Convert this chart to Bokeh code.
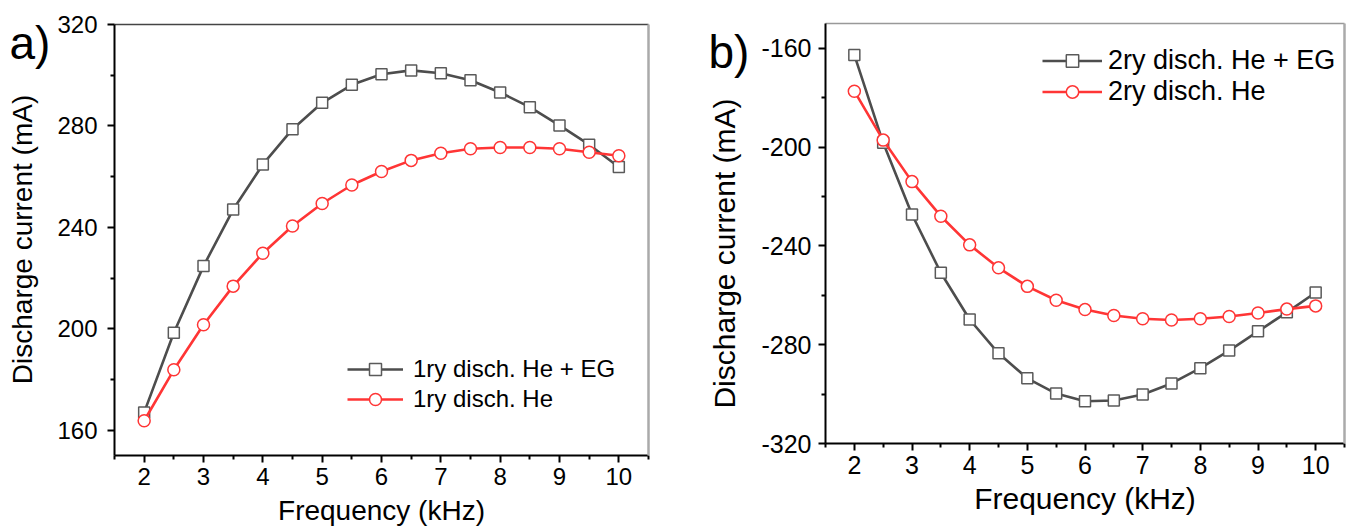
from math import pi
from bokeh.plotting import figure
from bokeh.models import Range1d, FixedTicker, Label, Legend, LegendItem, LinearAxis
from bokeh.layouts import row
from bokeh.embed import file_html
from bokeh.resources import INLINE

# ---------------- data ----------------
freq = [2, 2.5, 3, 3.5, 4, 4.5, 5, 5.5, 6, 6.5, 7, 7.5, 8, 8.5, 9, 9.5, 10]

prim_he_eg = [167.0, 198.4, 224.7, 247.0, 264.8, 278.7, 289.1, 296.2, 300.4, 301.9,
              300.8, 298.0, 293.2, 287.4, 280.2, 272.6, 263.8]
prim_he = [163.7, 183.8, 201.6, 216.8, 229.8, 240.5, 249.4, 256.7, 262.0, 266.4,
           269.2, 271.0, 271.5, 271.5, 271.0, 269.6, 268.2]

sec_he_eg = [-162.7, -198.3, -227.3, -250.9, -269.8, -283.5, -293.6, -299.8, -302.9, -302.6,
             -300.2, -295.7, -289.5, -282.4, -274.6, -266.9, -258.9]
sec_he = [-177.4, -197.2, -214.0, -228.0, -239.6, -248.9, -256.4, -262.0, -265.8, -268.2,
          -269.5, -270.0, -269.5, -268.6, -267.2, -265.6, -264.3]

x_ticks = [2, 3, 4, 5, 6, 7, 8, 9, 10]
x_minor = [1.5, 2.5, 3.5, 4.5, 5.5, 6.5, 7.5, 8.5, 9.5, 10.5]
x_bounds = (1.5, 10.5)
ya_ticks = [160, 200, 240, 280, 320]
ya_minor = [180, 220, 260, 300]
ya_bounds = (150, 320)
yb_ticks = [-320, -280, -240, -200, -160]
yb_minor = [-300, -260, -220, -180]
yb_bounds = (-320, -150)

labels_a = ["1ry disch. He + EG", "1ry disch. He"]
labels_b = ["2ry disch. He + EG", "2ry disch. He"]
x_title = "Frequency (kHz)"
y_title = "Discharge current (mA)"

FONT = "Liberation Sans"
GREY = "#4d4d4d"
GREY_MK = "#5a5a5a"
RED = "#ff3535"


def lin(p0, p1, v0, v1, c):
    return v0 + (c - p0) * (v1 - v0) / (p1 - p0)


def panel(width, height, frame_px, xb, yb, yticks, yminor, s1, s2, labels, tag,
          tick_fs, lab_fs, leg_fs, tag_pos, ylab_pos, xlab_pos, leg_loc,
          glyph_w, row_h, standoff, ylab_standoff, top_color, right_color):
    # frame_px: pixel positions (left, right, top, bottom) of the data box inside the canvas
    L, R, T, B = frame_px
    xr = Range1d(lin(L, R, xb[0], xb[1], 0), lin(L, R, xb[0], xb[1], width))
    yr = Range1d(lin(B, T, yb[0], yb[1], height), lin(B, T, yb[0], yb[1], 0))
    p = figure(width=width, height=height, output_backend="svg", toolbar_location=None,
               x_range=xr, y_range=yr, min_border=0,
               min_border_left=0, min_border_right=0, min_border_top=0, min_border_bottom=0)
    p.outline_line_color = None
    p.grid.visible = False
    p.background_fill_color = "white"
    p.border_fill_color = "white"

    p.xaxis.ticker = FixedTicker(ticks=x_ticks, minor_ticks=x_minor)
    p.yaxis.ticker = FixedTicker(ticks=yticks, minor_ticks=yminor)
    p.xaxis.fixed_location = yb[0]
    p.xaxis.bounds = xb
    p.yaxis.fixed_location = xb[0]
    p.yaxis.bounds = yb
    p.yaxis.major_label_overrides = {t: str(t) for t in yticks}
    for ax in (p.xaxis[0], p.yaxis[0]):
        ax.axis_line_width = 2
        ax.axis_line_color = "black"
        ax.major_tick_line_width = 2
        ax.minor_tick_line_width = 2
        ax.major_tick_in = 0
        ax.major_tick_out = 7
        ax.minor_tick_in = 0
        ax.minor_tick_out = 4
        ax.major_label_text_font = FONT
        ax.major_label_text_font_size = tick_fs
        ax.major_label_text_color = "black"
    p.xaxis.major_label_standoff = 5
    p.yaxis.major_label_standoff = ylab_standoff

    # frame top and right edges (lines only)
    top = LinearAxis(fixed_location=yb[1], bounds=xb, ticker=FixedTicker(ticks=[]),
                     axis_line_color=top_color, axis_line_width=1.5,
                     major_tick_out=0, minor_tick_out=0)
    right = LinearAxis(fixed_location=xb[1], bounds=yb, ticker=FixedTicker(ticks=[]),
                       axis_line_color=right_color, axis_line_width=2.5,
                       major_tick_out=0, minor_tick_out=0)
    p.add_layout(top, "above")
    p.add_layout(right, "right")

    l1 = p.line(freq, s1, line_color=GREY, line_width=2.6)
    m1 = p.scatter(freq, s1, marker="square", size=11, fill_color="white",
                   line_color=GREY_MK, line_width=1.5)
    l2 = p.line(freq, s2, line_color=RED, line_width=2.6)
    m2 = p.scatter(freq, s2, marker="circle", size=12, fill_color="white",
                   line_color=RED, line_width=1.5)

    leg = Legend(items=[LegendItem(label=labels[0], renderers=[l1, m1]),
                        LegendItem(label=labels[1], renderers=[l2, m2])],
                 location=leg_loc)
    leg.padding = 0
    leg.margin = 0
    leg.spacing = 0
    leg.border_line_alpha = 0
    leg.background_fill_alpha = 0
    leg.glyph_width = glyph_w
    leg.glyph_height = row_h
    leg.label_height = row_h
    leg.label_standoff = standoff
    leg.label_text_font = FONT
    leg.label_text_font_size = leg_fs
    leg.label_text_color = "black"
    p.add_layout(leg)

    p.add_layout(Label(x=tag_pos[0], y=tag_pos[1], text=tag, text_font=FONT,
                       text_font_size="46px", text_align="left", text_baseline="middle",
                       text_color="black"))
    p.add_layout(Label(x=ylab_pos[0], y=ylab_pos[1], text=y_title,
                       angle=pi / 2, text_font=FONT, text_font_size=lab_fs,
                       text_align="center", text_baseline="middle", text_color="black"))
    p.add_layout(Label(x=xlab_pos[0], y=xlab_pos[1], text=x_title,
                       text_font=FONT, text_font_size=lab_fs,
                       text_align="center", text_baseline="middle", text_color="black"))
    return p


pa = panel(690, 530, (114, 648, 24, 455), x_bounds, ya_bounds, ya_ticks, ya_minor,
           prim_he_eg, prim_he, labels_a, "a)",
           "24px", "28px", "24px",
           (-0.27, 312.9), (-0.05, 235.2), (6.0, 128.3), (347, 116),
           56, 30, 10, 10, "#444444", "#aaaaaa")

pb = panel(662, 530, (135, 654, 23, 443), x_bounds, yb_bounds, yb_ticks, yb_minor,
           sec_he_eg, sec_he, labels_b, "b)",
           "25px", "30px", "27px",
           (-0.53, -161.7), (-0.25, -243.1), (6.0, -342.3), (352, 423),
           60, 31, 6, 7, "#999999", "#aaaaaa")

layout = row(pa, pb)
open("out.html", "w").write(file_html(layout, INLINE))
